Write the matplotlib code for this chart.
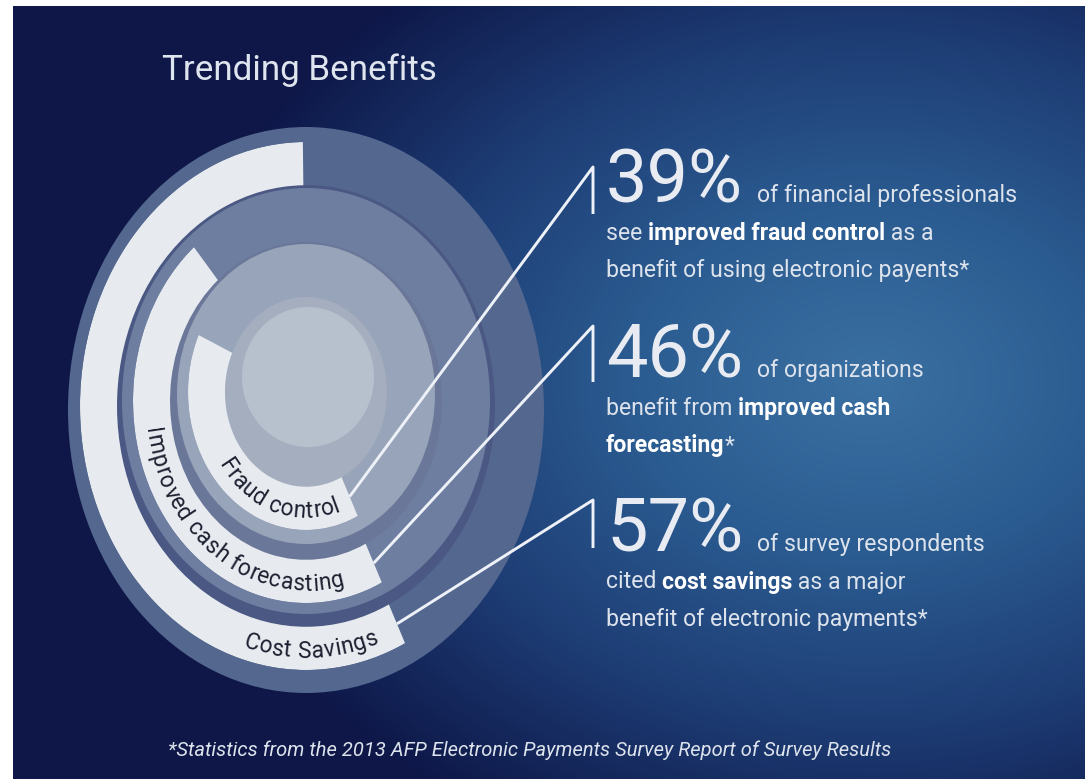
import numpy as np
import matplotlib
matplotlib.use("Agg")
import matplotlib.pyplot as plt
from matplotlib import font_manager
from matplotlib.colors import LinearSegmentedColormap
from matplotlib.font_manager import FontProperties
from matplotlib.patches import Ellipse

W, H = 1085, 784

# ── data ──────────────────────────────────────────────────────────────────
benefits = ["Cost Savings", "Improved cash forecasting", "Fraud control"]
shares = [57, 46, 39]

cost_lines = [
    [("of survey respondents", False)],
    [("cited ", False), ("cost savings", True), (" as a major", False)],
    [("benefit of electronic payments*", False)],
]
cash_lines = [
    [("of organizations", False)],
    [("benefit from ", False), ("improved cash", True)],
    [("forecasting", True), ("*", False)],
]
fraud_lines = [
    [("of financial professionals", False)],
    [("see ", False), ("improved fraud control", True), (" as a", False)],
    [("benefit of using electronic payents*", False)],
]
callouts = [cost_lines, cash_lines, fraud_lines]

title = "Trending Benefits"
footnote = "*Statistics from the 2013 AFP Electronic Payments Survey Report of Survey Results"

# ── layout (pixels, y down) ───────────────────────────────────────────────
# ring: centre x, centre y, outer rx, outer ry   (cost, cash, fraud)
RINGS = [(306, 406, 226, 264), (306, 401, 173, 202), (306, 392, 118, 138)]
BAR_W = 37
END_DEG = 296
LABEL_END = [290, 284, 289]
TRACK = 1.07
BASELINES = [551, 377, 202]
LEADER_TOP = [500, 326, 167]
LEADER_BOT = [548, 382, 214]
LINE_GAP = 37.5
TEXT_X = 606
LEADER_X = 593

avail = {f.name for f in font_manager.fontManager.ttflist}


def pick(*names):
    for n in names:
        if n in avail:
            return n
    return "DejaVu Sans"


FONT = pick("Liberation Sans Narrow", "Roboto", "Lato")

fig = plt.figure(figsize=(W / 100, H / 100), dpi=100)
fig.patch.set_facecolor("white")
renderer = fig.canvas.get_renderer()


def fp_(size, bold=False, italic=False):
    return FontProperties(family=FONT, size=size,
                          weight="bold" if bold else "normal",
                          style="italic" if italic else "normal")


def text_width(s, fp):
    t = fig.text(0, 0, s, fontproperties=fp)
    w = t.get_window_extent(renderer).width
    t.remove()
    return w


def advance(s, fp):
    if not s:
        return 0.0
    return text_width(s + "x", fp) - text_width("x", fp)


def fit(s, width_px, **kw):
    # font size that makes s span width_px (reference type is condensed)
    return 10 * width_px / text_width(s, fp_(10, **kw))


BODY = 10 * 625 / (text_width("of financial professionals", fp_(10))
                   + text_width("benefit of using electronic payents*", fp_(10)))
PCT = fit("39%", 137)
TITLE = fit(title, 276)
FOOT = fit(footnote, 717, italic=True)
LABEL = fit("Cost Savings", 132)

# ── background ────────────────────────────────────────────────────────────
ax = fig.add_axes([0, 0, 1, 1], zorder=0)
yy, xx = np.mgrid[6:779, 13:1085]
d = np.clip(np.hypot((xx - 870) / 700, (yy - 380) / 520), 0, 1)
bg = LinearSegmentedColormap.from_list(
    "bg", ["#3b70a2", "#2b5c91", "#1d3c74", "#0e1748"])
ax.imshow(d, cmap=bg, vmin=0, vmax=1, extent=(13, 1085, 779, 6),
          aspect="auto", interpolation="bilinear")

# stacked discs
disks = [
    (306, 410, 238, 283, "#53678f"),
    (306, 406, 189, 221, "#4a5883"),
    (306, 401, 184, 213, "#6d7ea1"),
    (306, 401, 136, 159, "#6a7799"),
    (306, 394, 129, 150, "#98a4b9"),
    (306, 392, 81, 95, "#a4aebf"),
    (308, 377, 66, 70, "#b7c1ce"),
]
for cx, cy, rx, ry, c in disks:
    ax.add_patch(Ellipse((cx, cy), 2 * rx, 2 * ry, color=c, lw=0))
ax.set_xlim(0, W)
ax.set_ylim(H, 0)
ax.axis("off")

# ── arcs: one polar bar per benefit ───────────────────────────────────────
for (cx, cy, rx, ry), share in zip(RINGS, shares):
    pax = fig.add_axes([(cx - rx) / W, (H - cy - ry) / H, 2 * rx / W, 2 * ry / H],
                       projection="polar", zorder=1)
    pax.set_aspect("auto")
    span = 3.6 * share
    inner = 1 - BAR_W / rx
    pax.bar(np.radians(END_DEG - span / 2), 1 - inner, width=np.radians(span),
            bottom=inner, color="#e7eaee", linewidth=0)
    pax.set_ylim(0, 1)
    pax.set_axis_off()

# ── overlay: labels, leaders, call-outs ───────────────────────────────────
top = fig.add_axes([0, 0, 1, 1], zorder=2)
top.set_xlim(0, W)
top.set_ylim(H, 0)
top.axis("off")
top.patch.set_alpha(0)


def arc_label(s, cx, cy, rx, ry, end_deg, fp):
    # lay the string along the ellipse so that it finishes at end_deg
    th = np.radians(end_deg) - np.linspace(0, np.pi, 4000)
    ds = np.hypot(rx * np.sin(th), ry * np.cos(th)) * (th[0] - th[1])
    back = np.concatenate([[0], np.cumsum(ds[:-1])])
    total = advance(s, fp)
    for i, ch in enumerate(s):
        if ch == " ":
            continue
        mid = (advance(s[:i], fp) + advance(s[:i + 1], fp)) / 2
        t = np.interp((total - mid) * TRACK, back, th)
        rot = np.degrees(np.arctan2(ry * np.cos(t), -rx * np.sin(t)))
        top.text(cx + rx * np.cos(t), cy - ry * np.sin(t), ch, fontproperties=fp,
                 color="#1c2030", rotation=rot, rotation_mode="anchor",
                 ha="center", va="baseline")


lab_fp = fp_(LABEL)
for (cx, cy, rx, ry), name, end in zip(RINGS, benefits, LABEL_END):
    rxm = rx - BAR_W / 2 + 8
    arc_label(name, cx, cy, rxm, ry * rxm / rx, end, lab_fp)

# leader lines
for (cx, cy, rx, ry), y1, y2 in zip(RINGS, LEADER_TOP, LEADER_BOT):
    rxm = rx - BAR_W / 2
    rym = ry * rxm / rx
    a = np.radians(END_DEG)
    x0, y0 = cx + rxm * np.cos(a), cy - rym * np.sin(a)
    top.plot([x0, LEADER_X, LEADER_X], [y0, y1, y2],
             color="#eef2f8", lw=2.1, solid_capstyle="butt")

# call-outs
pct_fp = fp_(PCT)
for share, lines, base in zip(shares, callouts, BASELINES):
    pct = f"{share}%"
    top.text(TEXT_X, base, pct, fontproperties=pct_fp, color="#e8ecf2",
             ha="left", va="baseline")
    for i, runs in enumerate(lines):
        x = TEXT_X + advance(pct, pct_fp) + 14 if i == 0 else TEXT_X
        y = base + i * LINE_GAP
        for s, bold in runs:
            f = fp_(BODY, bold)
            top.text(x, y, s, fontproperties=f,
                     color="#ffffff" if bold else "#dde3ec",
                     ha="left", va="baseline")
            x += advance(s, f)

top.text(162, 80, title, fontproperties=fp_(TITLE), color="#dfe5ef",
         ha="left", va="baseline")
top.text(168, 756, footnote, fontproperties=fp_(FOOT, italic=True),
         color="#dde3ec", ha="left", va="baseline")

fig.savefig("out.png", dpi=100, facecolor="white")
